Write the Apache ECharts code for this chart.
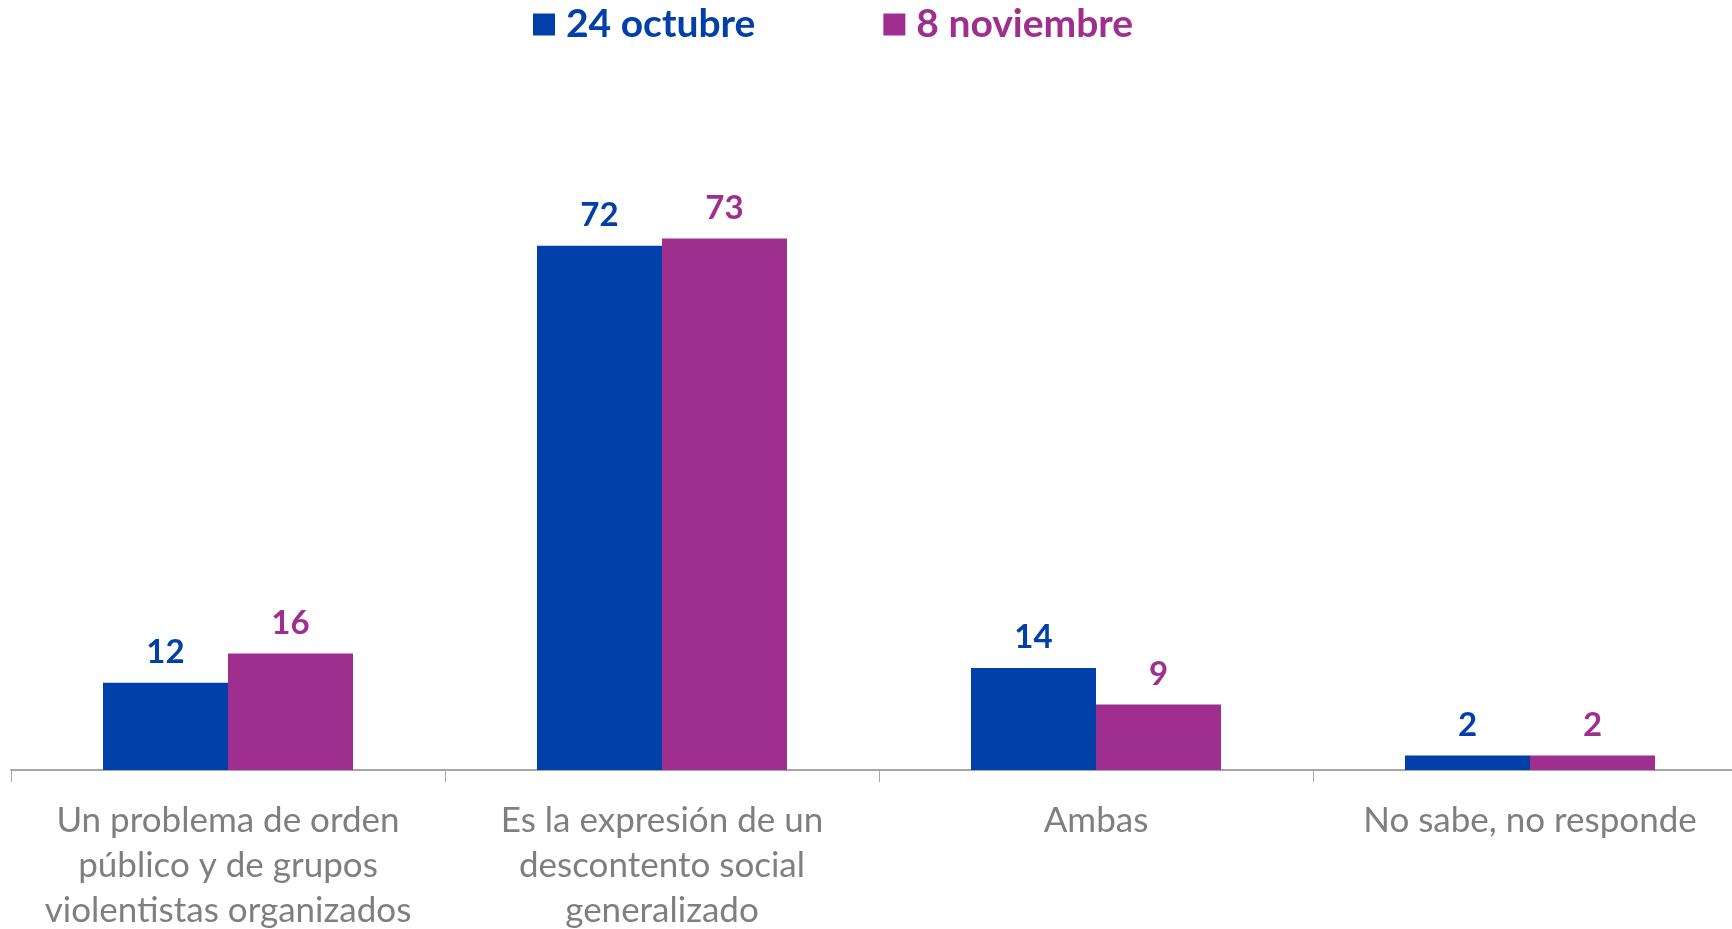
<!DOCTYPE html>
<html>
<head>
<meta charset="utf-8">
<script src="https://cdn.jsdelivr.net/npm/echarts@6/dist/echarts.min.js"></script>
<style>
  html, body { margin: 0; padding: 0; background: #fff; }
  #main { width: 1732px; height: 929px; }
</style>
</head>
<body>
<div id="main"></div>
<script>
// categorías y valores (%)
var categorias = [
  "Un problema de orden\npúblico y de grupos\nviolentistas organizados",
  "Es la expresión de un\ndescontento social\ngeneralizado",
  "Ambas",
  "No sabe, no responde"
];
var octubre = [12, 72, 14, 2];
var noviembre = [16, 73, 9, 2];

(function() {
  var myChart = echarts.init(document.getElementById("main"));

  var option = {
    color: ["#0040A8", "#9E2F8E"],
    legend: {
      top: 5,
      left: 533,
      padding: 0,
      itemWidth: 22,
      itemHeight: 22,
      itemGap: 128,
      icon: "rect",
      textStyle: {
        fontFamily: "Lato",
        fontWeight: "bold",
        fontSize: 39,
        padding: [0, 0, 0, 6]
      },
      data: [
        { name: "24 octubre", textStyle: { color: "#0040A8" } },
        { name: "8 noviembre", textStyle: { color: "#9E2F8E" } }
      ]
    },
    grid: {
      left: 11,
      top: 42,
      width: 1736, // la última categoría queda cortada en el borde
      height: 728,
      outerBoundsMode: "none",
      containLabel: false
    },
    xAxis: {
      type: "category",
      data: categorias,
      axisLine: {
        lineStyle: { color: "#a6a6a6", width: 2 }
      },
      axisTick: {
        show: true,
        length: 12,
        lineStyle: { color: "#a6a6a6", width: 1 }
      },
      axisLabel: {
        color: "#7f7f7f",
        fontFamily: "Lato",
        fontSize: 35,
        lineHeight: 45,
        margin: 28,
        interval: 0
      }
    },
    yAxis: {
      type: "value",
      min: 0,
      max: 100,
      show: false
    },
    series: [
      {
        name: "24 octubre",
        type: "bar",
        barWidth: 125,
        barGap: "0%",
        data: octubre,
        label: {
          show: true,
          position: "top",
          distance: 14,
          fontFamily: "Lato",
          fontWeight: "bold",
          fontSize: 33,
          color: "#0040A8"
        }
      },
      {
        name: "8 noviembre",
        type: "bar",
        barWidth: 125,
        barGap: "0%",
        data: noviembre,
        label: {
          show: true,
          position: "top",
          distance: 14,
          fontFamily: "Lato",
          fontWeight: "bold",
          fontSize: 33,
          color: "#9E2F8E"
        }
      }
    ]
  };

  myChart.setOption(option);
  window.addEventListener("resize", function() {
    myChart.resize();
  });
})();
</script>
</body>
</html>
